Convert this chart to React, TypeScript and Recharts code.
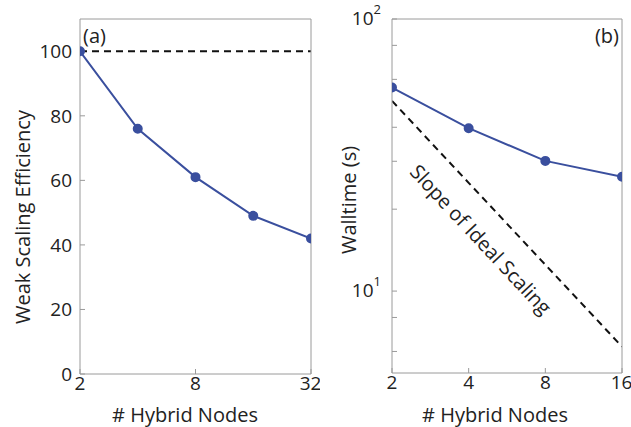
import { LineChart, Line, XAxis, YAxis, ReferenceLine, ReferenceDot, Label } from 'recharts'

const nodesA = [2, 4, 8, 16, 32]
const efficiency = [100, 76, 61, 49, 42]
const ticksA = [2, 8, 32]
const yTicksA = [0, 20, 40, 60, 80, 100]

const nodesB = [2, 4, 8, 16]
const walltime = [56, 39.7, 30.1, 26.3]
const idealTime = [50, 25, 12.5, 6.25]
const ticksB = [2, 4, 8, 16]
const yTicksB = [6, 7, 8, 9, 10, 20, 30, 40, 50, 60, 70, 80, 90, 100]

const FONT = '"Open Sans", "DejaVu Sans", sans-serif'
const BLUE = '#3a4f9e'
const BOX = '#9a9a9a'
const TXT = '#222'

const dataA = nodesA.map((n, i) => ({ n, eff: efficiency[i] }))
const dataB = nodesB.map((n, i) => ({ n, wall: walltime[i], ideal: idealTime[i] }))

const tickText = { fontFamily: FONT, fontSize: 19, fill: TXT }

function PowTick(props: any) {
  const { x, y, payload } = props
  const v = payload.value
  const exp = Math.round(Math.log10(v))
  if (Math.abs(Math.pow(10, exp) - v) > 1e-6) return <g />
  return (
    <text x={x - 14} y={y + 6} textAnchor="end" fontFamily={FONT} fontSize={19} fill={TXT}>
      10
      <tspan dy={-11} fontSize={13}>{exp}</tspan>
    </text>
  )
}

// axis titles, placed where the reference has them
function title(text: string, x: number, y: number, angle = 0) {
  return () => (
    <text x={x} y={y} textAnchor="middle" dominantBaseline="central" fontFamily={FONT} fontSize={20} fill={TXT}
      transform={angle ? `rotate(${angle}, ${x}, ${y})` : undefined}>
      {text}
    </text>
  )
}

function cornerText(text: string, dx: number, dy: number, anchor: 'start' | 'end') {
  return (props: any) => {
    const { viewBox } = props
    return (
      <text x={viewBox.x + dx} y={viewBox.y + dy} textAnchor={anchor} fontFamily={FONT} fontSize={20} fill={TXT}>
        {text}
      </text>
    )
  }
}

function SlopeLabel(props: any) {
  const { viewBox } = props
  const cx = viewBox.x
  const cy = viewBox.y
  return (
    <text x={cx} y={cy} textAnchor="middle" dominantBaseline="central" transform={`rotate(47, ${cx}, ${cy})`}
      fontFamily={FONT} fontSize={20} fill={TXT}>
      Slope of Ideal Scaling
    </text>
  )
}

export default function App() {
  return (
    <div style={{ position: 'absolute', left: 0, top: 0, width: 631, height: 427, background: '#fff' }}>
      <div style={{ position: 'absolute', left: 0, top: 0 }}>
        <LineChart width={320} height={427} data={dataA} margin={{ top: 18, right: 8, bottom: 0, left: 0 }}>
          <XAxis xAxisId="b" dataKey="n" type="number" scale="log" domain={[2, 32]} ticks={ticksA}
            height={53} stroke={BOX} tickSize={-5} tickMargin={8} tick={tickText} allowDataOverflow>
            <Label content={title('# Hybrid Nodes', 185, 414)} />
          </XAxis>
          <XAxis xAxisId="t" orientation="top" dataKey="n" type="number" scale="log" domain={[2, 32]} ticks={ticksA}
            height={1} stroke={BOX} tickSize={-5} tick={false} />
          <YAxis yAxisId="l" type="number" domain={[0, 110]} ticks={yTicksA} width={80} stroke={BOX}
            tickSize={-5} tickMargin={13} tick={tickText} allowDataOverflow>
            <Label content={title('Weak Scaling Efficiency', 22, 217, -90)} />
          </YAxis>
          <YAxis yAxisId="r" orientation="right" type="number" domain={[0, 110]} ticks={yTicksA} width={1}
            stroke={BOX} tickSize={-5} tick={false} />
          <ReferenceLine xAxisId="b" yAxisId="l" y={100} stroke="#111" strokeWidth={2} strokeDasharray="7 5" />
          <Line xAxisId="b" yAxisId="l" dataKey="eff" stroke={BLUE} strokeWidth={2}
            dot={{ r: 4, fill: BLUE, stroke: BLUE }} isAnimationActive={false} />
          <ReferenceDot xAxisId="b" yAxisId="l" x={2} y={110} r={0} label={cornerText('(a)', 3, 24, 'start')} />
        </LineChart>
      </div>
      <div style={{ position: 'absolute', left: 320, top: 0 }}>
        <LineChart width={311} height={427} data={dataB} margin={{ top: 18, right: 8, bottom: 0, left: 0 }}>
          <XAxis xAxisId="b" dataKey="n" type="number" scale="log" domain={[2, 16]} ticks={ticksB}
            height={54} stroke={BOX} tickSize={-5} tickMargin={8} tick={tickText} allowDataOverflow>
            <Label content={title('# Hybrid Nodes', 175, 414)} />
          </XAxis>
          <XAxis xAxisId="t" orientation="top" dataKey="n" type="number" scale="log" domain={[2, 16]} ticks={ticksB}
            height={1} stroke={BOX} tickSize={-5} tick={false} />
          <YAxis yAxisId="l" type="number" scale="log" domain={[5, 100]} ticks={yTicksB} width={72} stroke={BOX}
            tickSize={-5} tick={<PowTick />} allowDataOverflow>
            <Label content={title('Walltime (s)', 28, 200, -90)} />
          </YAxis>
          <YAxis yAxisId="r" orientation="right" type="number" scale="log" domain={[5, 100]} ticks={yTicksB} width={1}
            stroke={BOX} tickSize={-5} tick={false} allowDataOverflow />
          <Line xAxisId="b" yAxisId="l" dataKey="ideal" stroke="#111" strokeWidth={2} strokeDasharray="7 5"
            dot={false} isAnimationActive={false} />
          <Line xAxisId="b" yAxisId="l" dataKey="wall" stroke={BLUE} strokeWidth={2}
            dot={{ r: 4, fill: BLUE, stroke: BLUE }} isAnimationActive={false} />
          <ReferenceDot xAxisId="b" yAxisId="l" x={4.47} y={15.5} r={0} label={<SlopeLabel />} />
          <ReferenceDot xAxisId="b" yAxisId="l" x={16} y={100} r={0} label={cornerText('(b)', -3, 24, 'end')} />
        </LineChart>
      </div>
    </div>
  )
}
